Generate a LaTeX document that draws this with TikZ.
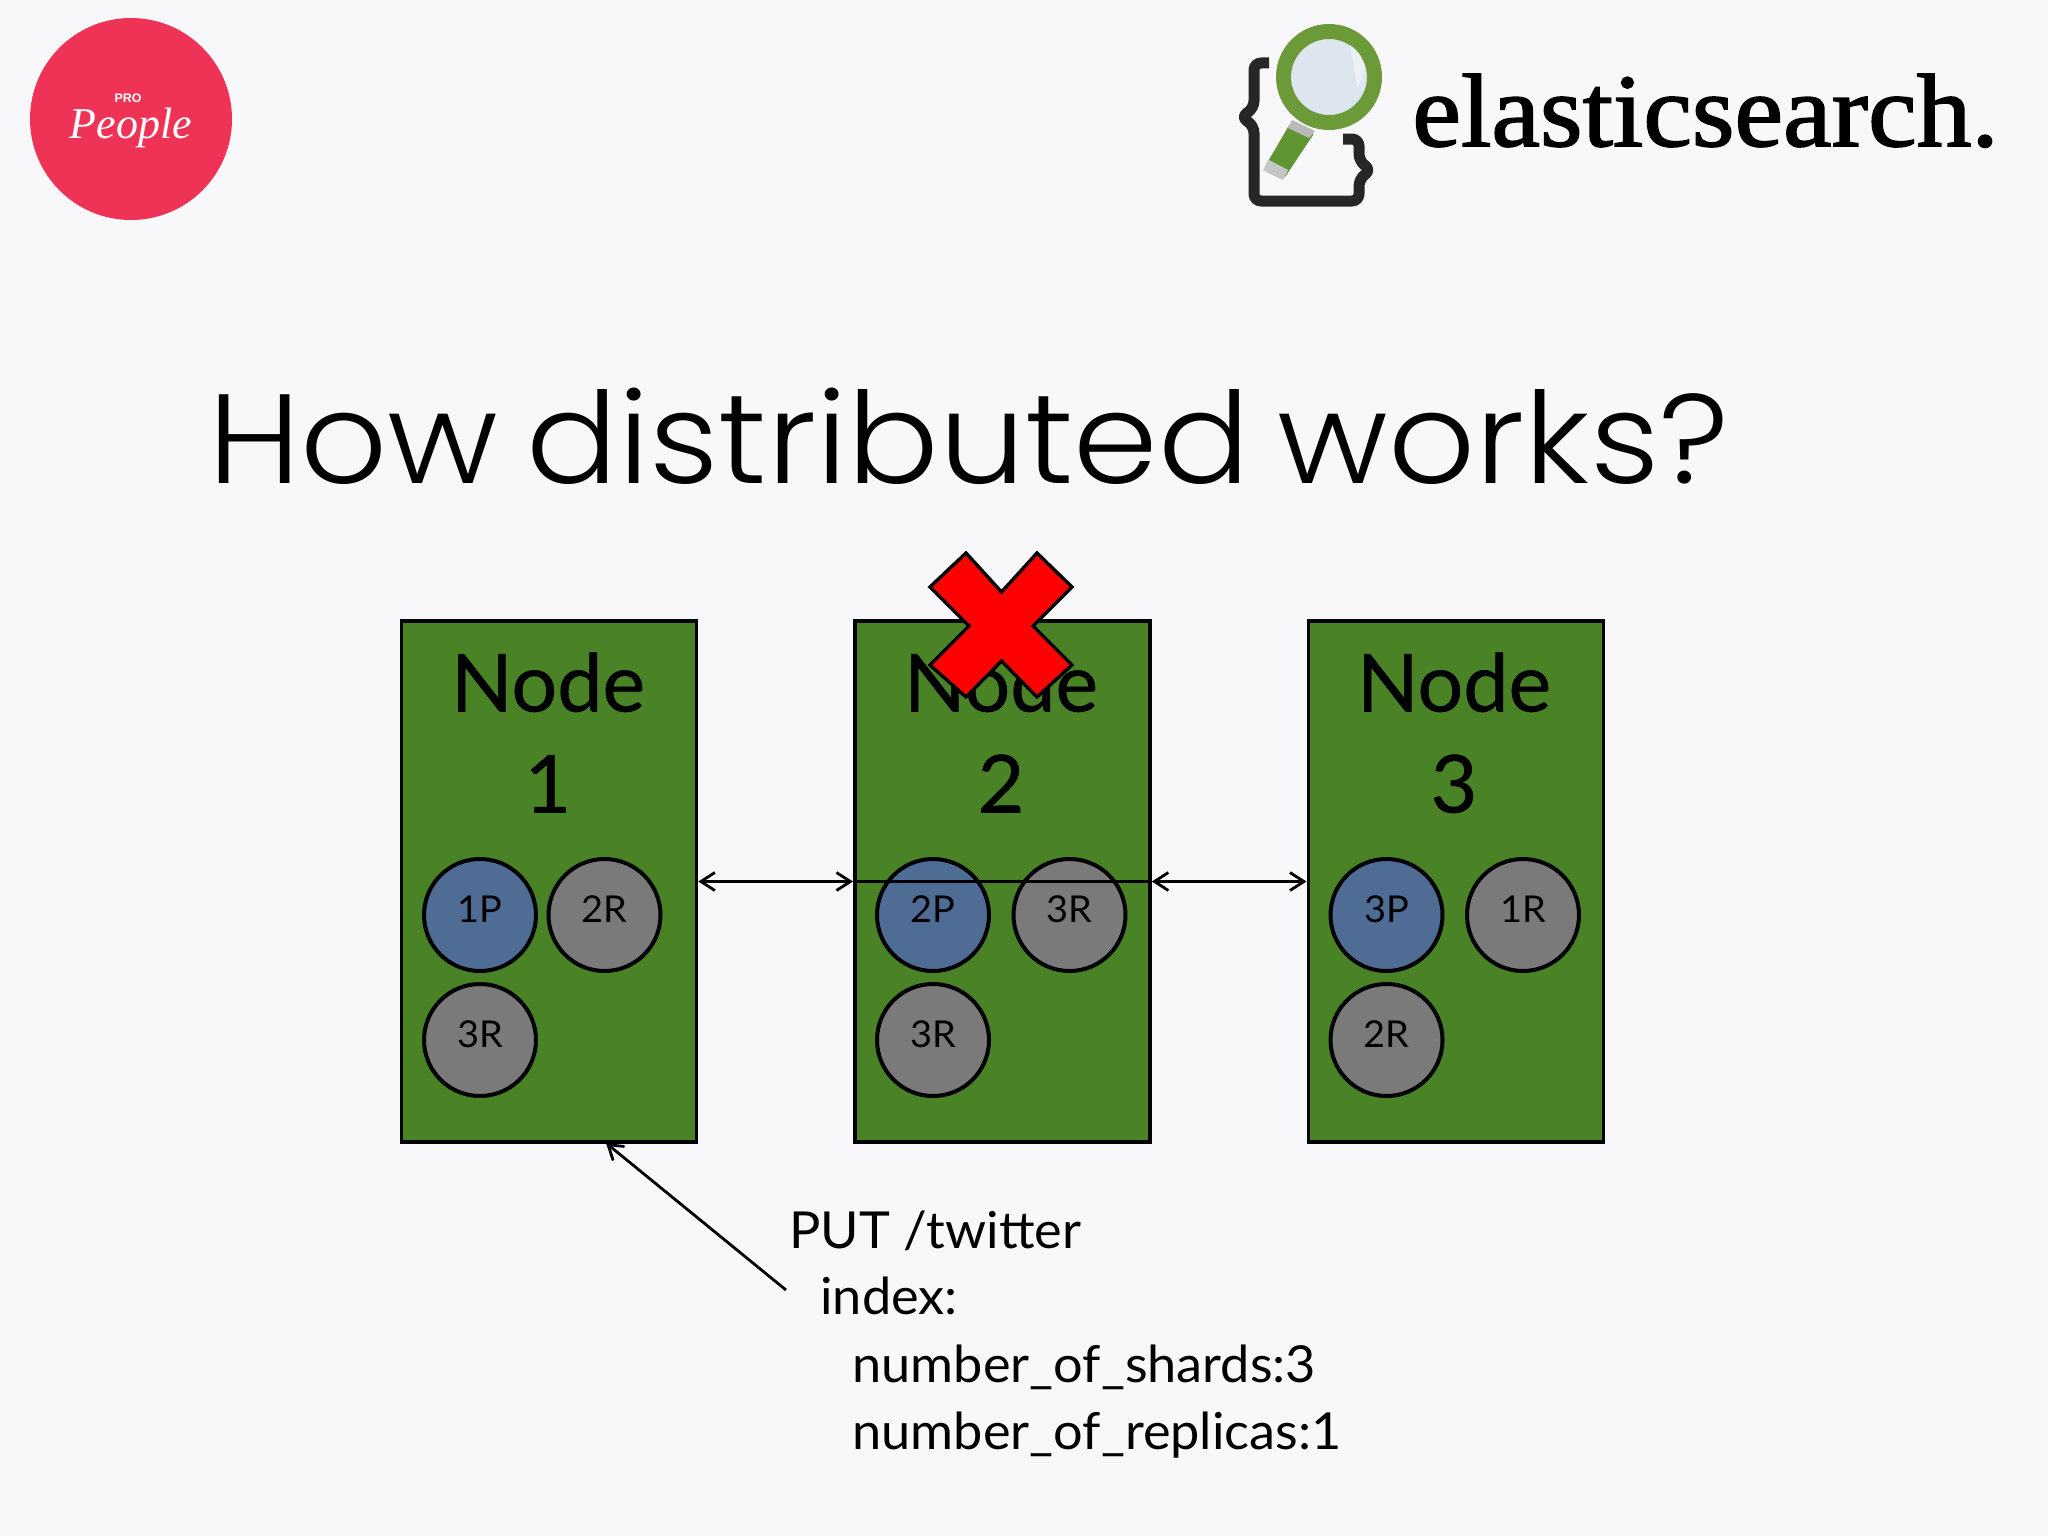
\documentclass[tikz,border=0pt]{standalone}
\usepackage{fontspec}
\usetikzlibrary{arrows.meta}
\setmainfont{Lato}
\newfontfamily\titlefont{Poppins}[UprightFont=* Light,FakeStretch=1.07,WordSpace=0.75]
\newfontfamily\esfont{Liberation Serif}[FakeBold=1.6,FakeStretch=1.052]
\newfontfamily\ppfont{Liberation Serif}
\newfontfamily\prfont{Liberation Sans}
\newfontfamily\nodefont{Lato}[FakeBold=0.7,FakeStretch=1.01]
\newfontfamily\cmdfont{Lato}[FakeStretch=1.025]
\definecolor{bgc}{HTML}{F8F8FA}
\definecolor{nodegreen}{HTML}{4A8226}
\definecolor{shardblue}{HTML}{4F6D94}
\definecolor{shardgray}{HTML}{7A7A7A}
\definecolor{pink}{HTML}{EE3356}
\definecolor{ringgreen}{HTML}{6C9A38}
\definecolor{handlegreen}{HTML}{5F9632}
\definecolor{lens}{HTML}{DDE6EE}
\definecolor{brace}{HTML}{262626}
\newlength{\pxu}\setlength{\pxu}{0.5pt}
\tikzset{
  clusternode/.style={draw=black,line width=1.9pt,fill=nodegreen,minimum width=295\pxu,minimum height=521\pxu,inner sep=0pt,anchor=north west},
  nodetitle/.style={anchor=base,font=\nodefont\fontsize{40}{40}\selectfont,inner sep=0pt},
  shard/.style={circle,draw=black,line width=2pt,minimum size=112\pxu,inner sep=0pt},
  primary/.style={shard,fill=shardblue},
  replica/.style={shard,fill=shardgray},
  shardlabel/.style={anchor=base,font=\cmdfont\fontsize{18.5}{18.5}\selectfont,inner sep=0pt},
  link/.style={line width=1.4pt,{Straight Barb[length=7pt,width=9pt]}-{Straight Barb[length=7pt,width=9pt]}},
  plainlink/.style={line width=1.4pt},
  putarrow/.style={line width=1.4pt,-{Straight Barb[length=7pt,width=9pt]}},
  cmd/.style={anchor=base west,font=\cmdfont\fontsize{25.5}{25.5}\selectfont,inner sep=0pt},
}
\begin{document}
\begin{tikzpicture}[x=0.5pt,y=-0.5pt]
\useasboundingbox (0,0) rectangle (2048,1536);
\fill[bgc] (0,0) rectangle (2048,1536);
% People logo
\node[circle,fill=pink,minimum size=202\pxu,inner sep=0pt] (pp) at (131,119) {};
\node[anchor=base,inner sep=0pt,text=white,font=\ppfont\itshape\fontsize{22}{22}\selectfont] (ppname) at (131,139) {People};
\node[anchor=base,inner sep=0pt,text=white,font=\prfont\bfseries\fontsize{6.2}{6.2}\selectfont] (pppro) at (128,103) {PRO};
% elasticsearch logo
\draw[brace,line width=5.5pt,line join=round,rounded corners=3.5pt] (1269,63) -- (1254,63) -- (1254,108) -- (1241,117) -- (1254,126) -- (1254,201) -- (1359,201) -- (1359,179) -- (1371,170) -- (1359,161) -- (1359,139) -- (1343,139);
\fill[handlegreen,rounded corners=2pt] (1291,122) -- (1315,132) -- (1283,180) -- (1263,170) -- cycle;
\fill[gray!55] (1292,120) -- (1315,131) -- (1309,138) -- (1288,128) -- cycle;
\fill[gray!45] (1269,160) -- (1288,170) -- (1283,180) -- (1263,170) -- cycle;
\draw[ringgreen,line width=7.5pt,fill=lens] (1329,77) circle[radius=45.5];
\fill[white,opacity=.45] (1350,45) arc[start angle=-60,end angle=40,radius=28] -- cycle;
\node[anchor=base west,inner sep=0pt,font=\esfont\fontsize{52}{52}\selectfont] (es) at (1412,146) {elasticsearch.};
% title
\node[anchor=base west,inner sep=0pt,font=\titlefont\fontsize{63.5}{63.5}\selectfont] (title) at (208,483) {How distributed works?};
% cluster nodes
\node[clusternode] (n1) at (399.5,619) {};
\node[clusternode] (n2) at (853,619) {};
\node[clusternode] (n3) at (1306.5,619) {};
\foreach \nm/\cx/\num in {t1/548/1,t2/1001/2,t3/1454/3}{
  \node[nodetitle] (\nm a) at (\cx,711.5) {Node};
  \node[nodetitle] (\nm b) at (\cx,812.5) {\num};
}
% shards
\node[primary] (s11) at (480,915) {};
\node[replica] (s12) at (604.5,915) {};
\node[replica] (s13) at (480,1040) {};
\node[primary] (s21) at (933,915) {};
\node[replica] (s22) at (1069.5,915) {};
\node[replica] (s23) at (933,1040) {};
\node[primary] (s31) at (1386.5,915) {};
\node[replica] (s32) at (1523,915) {};
\node[replica] (s33) at (1386.5,1040) {};
\foreach \lx/\ly/\txt/\nm in {480/922/1P/l11,604.5/922/2R/l12,480/1047/3R/l13,933/922/2P/l21,1069.5/922/3R/l22,933/1047/3R/l23,1386.5/922/3P/l31,1523/922/1R/l32,1386.5/1047/2R/l33}{
  \node[shardlabel] (\nm) at (\lx,\ly) {\txt};
}
% connectors
\coordinate (ya) at (0,881.5);
\draw[link] (n1.east |- ya) -- (n2.west |- ya);
\draw[plainlink] (n2.west |- ya) -- (n2.east |- ya);
\draw[link] (n2.east |- ya) -- (n3.west |- ya);
\coordinate (putstart) at (786,1290);
\coordinate (puttip) at (606,1143);
\draw[putarrow] (putstart) -- (puttip);
% red cross
\draw[fill=red,draw=black,line width=1.7pt,line join=miter]
 (966,553) -- (1001.5,592) -- (1037,553) -- (1072,587) -- (1033,626) -- (1072,665) -- (1037,697) -- (1001.5,661) -- (966,697) -- (930,665) -- (969,626) -- (930,587) -- cycle;
% command text
\node[cmd] (c1) at (789,1248) {PUT /twitter};
\node[cmd] (c2) at (820,1314) {index:};
\node[cmd] (c3) at (852,1382) {number\_of\_shards:3};
\node[cmd] (c4) at (852,1449) {number\_of\_replicas:1};
\end{tikzpicture}
\end{document}
